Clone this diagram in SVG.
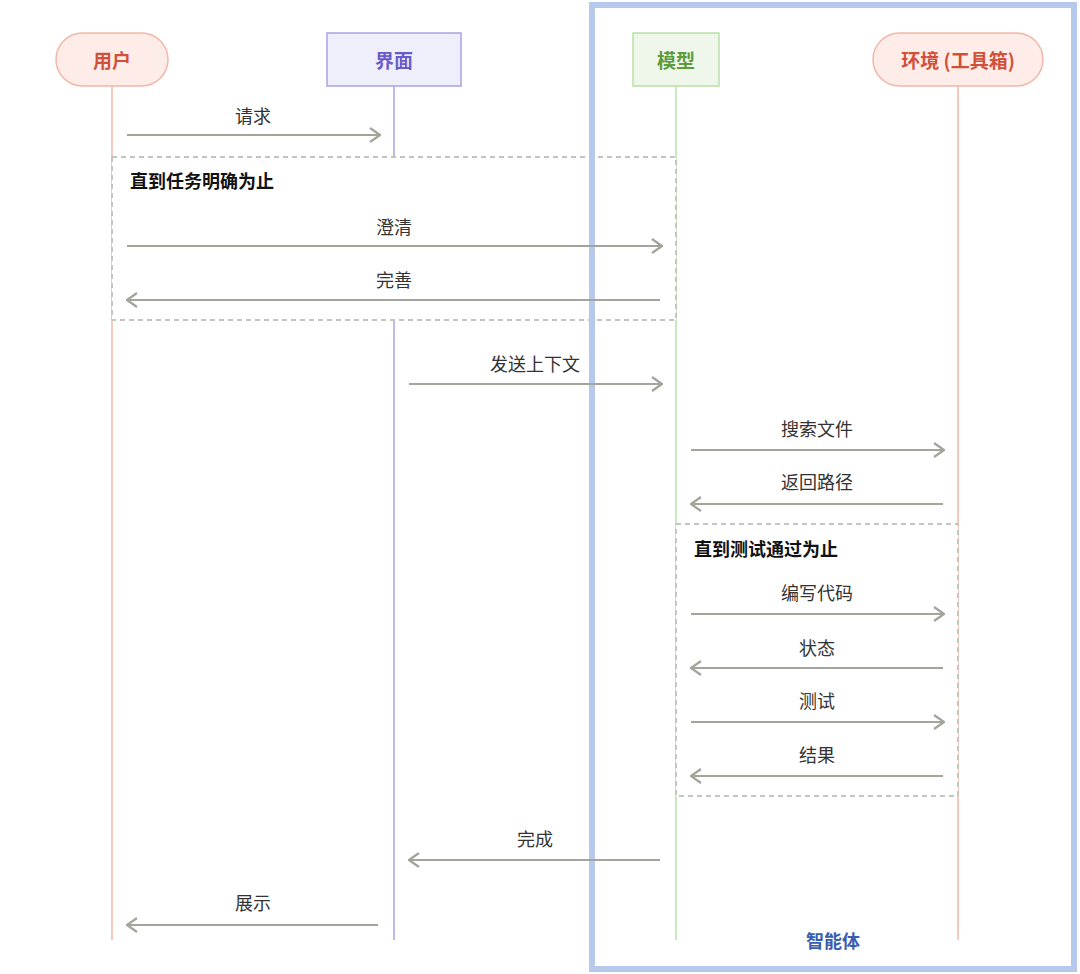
<svg xmlns="http://www.w3.org/2000/svg" width="1080" height="974" viewBox="0 0 1080 974">
<style>
text{font-family:"Noto Sans CJK SC","Noto Sans",sans-serif;font-size:18px;text-anchor:middle;dominant-baseline:central}
.lbl{fill:#333}
.ar{stroke:#a3a59c;stroke-width:2.2;fill:none}
.loop{fill:#fff;stroke:#c4c4c0;stroke-width:2;stroke-dasharray:5 4}
.lt{font-weight:bold;text-anchor:start;fill:#111}
.nt{font-weight:bold;font-size:19px}
</style>
<defs>
<marker id="h" viewBox="0 0 12 16" refX="11" refY="8" markerWidth="12" markerHeight="16" markerUnits="userSpaceOnUse" orient="auto"><path d="M1 1 L11 8 L1 15" fill="none" stroke="#a3a59c" stroke-width="2.2"/></marker>
</defs>
<rect width="1080" height="974" fill="#fff"/>
<g id="lifelines">
<line x1="112" y1="86" x2="112" y2="940" stroke="#f2b7a8" stroke-width="1.5"/>
<line x1="394" y1="86" x2="394" y2="940" stroke="#a9a3e6" stroke-width="1.5"/>
<line x1="676" y1="86" x2="676" y2="940" stroke="#b9e0a8" stroke-width="1.5"/>
<line x1="958" y1="86" x2="958" y2="940" stroke="#f2b7a8" stroke-width="1.5"/>
</g>
<g id="loops">
<rect x="112" y="157" width="564" height="163" class="loop"/>
<text x="130" y="180" class="lt">直到任务明确为止</text>
<rect x="676" y="524" width="282" height="272" class="loop"/>
<text x="694" y="548" class="lt">直到测试通过为止</text>
</g>
<rect id="agent" x="592" y="5" width="482" height="964" fill="none" stroke="#b6c8ec" stroke-width="6"/>
<text x="833" y="940" class="nt" style="fill:#3a5db0;font-size:18px">智能体</text>
<g id="user"><rect x="56" y="33" width="112" height="53" rx="26.5" fill="#fdece7" stroke="#f2b7a8" stroke-width="1.5"/><text x="112" y="59" class="nt" fill="#d2503a">用户</text></g>
<g id="ui"><rect x="327" y="33" width="134" height="53" fill="#efeefb" stroke="#a9a3e6" stroke-width="1.5"/><text x="394" y="59" class="nt" fill="#6a5cc8">界面</text></g>
<g id="model"><rect x="633" y="33" width="86" height="53" fill="#eef7ea" stroke="#b9e0a8" stroke-width="1.5"/><text x="676" y="59" class="nt" fill="#5c9c3c">模型</text></g>
<g id="env"><rect x="873" y="33" width="170" height="53" rx="26.5" fill="#fdece7" stroke="#f2b7a8" stroke-width="1.5"/><text x="958" y="59" class="nt" fill="#d2503a">环境 (工具箱)</text></g>
<g id="connectors">
<line x1="127" y1="135" x2="380" y2="135" class="ar" marker-end="url(#h)"/><text x="253" y="115" class="lbl">请求</text>
<line x1="127" y1="246" x2="662" y2="246" class="ar" marker-end="url(#h)"/><text x="394" y="226" class="lbl">澄清</text>
<line x1="660" y1="300" x2="127" y2="300" class="ar" marker-end="url(#h)"/><text x="394" y="279" class="lbl">完善</text>
<line x1="409" y1="384" x2="662" y2="384" class="ar" marker-end="url(#h)"/><text x="535" y="363" class="lbl">发送上下文</text>
<line x1="691" y1="450" x2="944" y2="450" class="ar" marker-end="url(#h)"/><text x="817" y="428" class="lbl">搜索文件</text>
<line x1="943" y1="504" x2="691" y2="504" class="ar" marker-end="url(#h)"/><text x="817" y="481" class="lbl">返回路径</text>
<line x1="691" y1="614" x2="944" y2="614" class="ar" marker-end="url(#h)"/><text x="817" y="592" class="lbl">编写代码</text>
<line x1="943" y1="668" x2="691" y2="668" class="ar" marker-end="url(#h)"/><text x="817" y="647" class="lbl">状态</text>
<line x1="691" y1="722" x2="944" y2="722" class="ar" marker-end="url(#h)"/><text x="817" y="700" class="lbl">测试</text>
<line x1="943" y1="776" x2="691" y2="776" class="ar" marker-end="url(#h)"/><text x="817" y="754" class="lbl">结果</text>
<line x1="660" y1="860" x2="409" y2="860" class="ar" marker-end="url(#h)"/><text x="535" y="838" class="lbl">完成</text>
<line x1="378" y1="925" x2="127" y2="925" class="ar" marker-end="url(#h)"/><text x="253" y="902" class="lbl">展示</text>
</g>
</svg>
